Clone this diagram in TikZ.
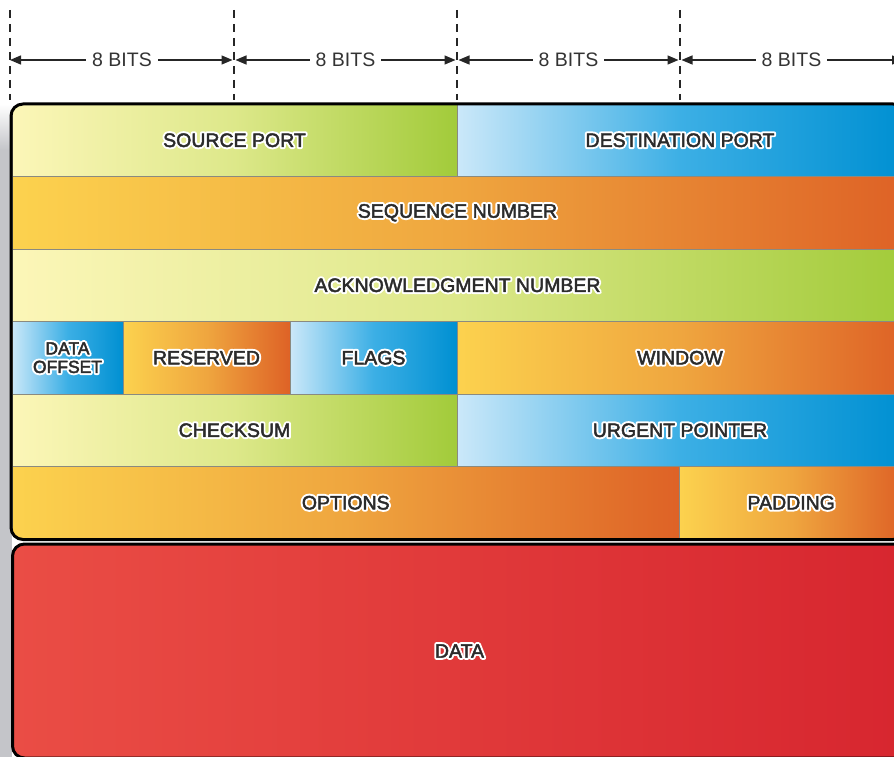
\documentclass[tikz,border=0pt]{standalone}
\usepackage{fontspec}
\setmainfont{Liberation Sans}
\usetikzlibrary{arrows.meta}
\definecolor{gL}{HTML}{FCF6B8}
\definecolor{gM}{HTML}{DDE88A}
\definecolor{gR}{HTML}{A2CB3A}
\definecolor{bL}{HTML}{CBE8F9}
\definecolor{bM}{HTML}{3CAFE5}
\definecolor{bR}{HTML}{0090D2}
\definecolor{oL}{HTML}{FCD24E}
\definecolor{oM}{HTML}{EFA63F}
\definecolor{oR}{HTML}{DE6226}
\definecolor{rL}{HTML}{EA4D45}
\definecolor{rR}{HTML}{D7262F}
\definecolor{cellline}{HTML}{8A8A80}
\definecolor{labeltext}{HTML}{2B2B2B}
\definecolor{dimtext}{HTML}{333333}
\definecolor{shadowgray}{HTML}{C4C5C9}
% white halo: a stroked white copy under a slightly stroked dark copy
\newcommand\halo[1]{\rlap{\special{pdf:literal direct q 2 Tr 4.4 w 1 J 1 j 1 1 1 RG 1 1 1 rg}#1\special{pdf:literal direct Q}}%
  \special{pdf:literal direct q 2 Tr 0.45 w 1 j 0.17 0.17 0.17 RG 0.17 0.17 0.17 rg}#1\special{pdf:literal direct Q}}
\tikzset{
  x=1pt, y=-1pt,
  cellbox/.style={rectangle, inner sep=0pt, outer sep=0pt, draw=cellline, line width=0.8pt,
    anchor=north west, minimum height=72.5pt, text=labeltext,
    font=\fontsize{19.5}{16}\selectfont, align=center},
  greencell/.style={cellbox, left color=gL, right color=gR, middle color=gM},
  bluecell/.style={cellbox, left color=bL, right color=bR, middle color=bM},
  orangecell/.style={cellbox, left color=oL, right color=oR, middle color=oM},
  dimline/.style={line width=2pt, dash pattern=on 8pt off 6pt, black!85},
  dimarrow/.style={line width=1.3pt, black!85, {Triangle[length=11pt,width=9pt]}-{Triangle[length=11pt,width=9pt]}},
  bitlabel/.style={fill=white, inner xsep=6pt, inner ysep=2pt, text=dimtext, font=\fontsize{19.5}{20}\selectfont},
  outerframe/.style={line width=3pt, rounded corners=12pt, black}
}
\begin{document}
\begin{tikzpicture}
\useasboundingbox (0,0) rectangle (894,757);
% shadow
\shade[top color=white, bottom color=shadowgray] (0,104) rectangle (12,150);
\fill[shadowgray] (0,150) rectangle (12,757);
% dimension lines
\foreach \n/\x in {0/10,1/234,2/457,3/680,4/903}{
  \coordinate (t\n) at (\x,10);
  \coordinate (b\n) at (\x,100);
  \coordinate (m\n) at (\x,60);
}
\foreach \n in {0,...,4}{ \draw[dimline] (t\n) -- (b\n); }
\draw[dimarrow, shorten >=1.5pt] (m0) -- node[bitlabel] (bits1) {8 BITS} (m1);
\draw[dimarrow, shorten <=1.5pt, shorten >=1.5pt] (m1) -- node[bitlabel] (bits2) {8 BITS} (m2);
\draw[dimarrow, shorten <=1.5pt, shorten >=1.5pt] (m2) -- node[bitlabel] (bits3) {8 BITS} (m3);
\draw[dimarrow, shorten <=1.5pt] (m3) -- node[bitlabel] (bits4) {8 BITS} (m4);
% header cells
\begin{scope}
\clip[rounded corners=12pt] (11,104) rectangle (905,539.5);
\node[greencell, minimum width=445pt] (sp) at (12,104) {\halo{SOURCE PORT}};
\node[bluecell, minimum width=446pt] (dp) at (457,104) {\halo{DESTINATION PORT}};
\node[orangecell, minimum width=891pt] (seq) at (12,176.5) {\halo{SEQUENCE NUMBER}};
\node[greencell, minimum width=891pt] (ack) at (12,249) {\halo{ACKNOWLEDGMENT NUMBER}};
\node[bluecell, minimum width=111pt, font=\fontsize{17.5}{18.5}\selectfont] (doff) at (12,321.5) {\halo{DATA}\\\halo{OFFSET}};
\node[orangecell, minimum width=167pt] (res) at (123,321.5) {\halo{RESERVED}};
\node[bluecell, minimum width=167pt] (flags) at (290,321.5) {\halo{FLAGS}};
\node[orangecell, minimum width=446pt] (win) at (457,321.5) {\halo{WINDOW}};
\node[greencell, minimum width=445pt] (chk) at (12,394) {\halo{CHECKSUM}};
\node[bluecell, minimum width=446pt] (urg) at (457,394) {\halo{URGENT POINTER}};
\node[orangecell, minimum width=667.5pt] (opt) at (12,466.5) {\halo{OPTIONS}};
\node[orangecell, minimum width=223.5pt] (pad) at (679.5,466.5) {\halo{PADDING}};
\end{scope}
\draw[outerframe] (11,104) rectangle (905,539.5);
% data box
\node[rectangle, anchor=north west, minimum width=894pt, minimum height=214pt, inner sep=0pt,
  rounded corners=12pt, draw=black, line width=3pt, left color=rL, right color=rR,
  text=labeltext, font=\fontsize{19.5}{20}\selectfont] (data) at (11,542.5) {\halo{DATA}};
\end{tikzpicture}
\end{document}
